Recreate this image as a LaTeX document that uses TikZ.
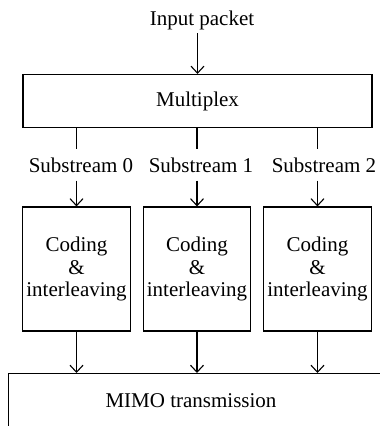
\documentclass[tikz,border=0pt]{standalone}
\usepackage{fontspec}
\setmainfont{Liberation Serif}
\usetikzlibrary{arrows.meta}
\begin{document}
\begin{tikzpicture}[x=1pt,y=-1pt,
  font=\fontsize{21}{22.5}\selectfont,
  line width=1.1pt,
  arr/.style={-{Straight Barb[length=7pt,width=13pt]}},
  box/.style={draw,rectangle,inner sep=0pt},
  streamlbl/.style={anchor=base,text height=14pt,text depth=0pt,inner xsep=0pt,inner ysep=8pt}]
\useasboundingbox (0,0) rectangle (380,426);
\clip (0,0) rectangle (380,426);

% input and multiplexer
\node[anchor=base] (in) at (202,25) {Input packet};
\node[box,minimum width=349pt,minimum height=53pt] (mux) at (197.5,101) {Multiplex};
\draw[arr] (mux.north |- in.south) -- (mux.north);

% substream labels
\node[streamlbl] (s0) at (81,172) {Substream 0};
\node[streamlbl] (s1) at (201,172) {Substream 1};
\node[streamlbl] (s2) at (324,172) {Substream 2};

% coding & interleaving blocks
\foreach \n/\x in {c0/76.5,c1/197,c2/317.5}
  \node[box,minimum width=107.5pt,minimum height=124pt,align=center] (\n) at (\x,269) {Coding\\\&\\interleaving};

% MIMO block, running off the right and bottom edges
\node[box,anchor=north west,minimum width=420pt,minimum height=80pt] (mimobox) at (8,373) {};
\node (mimo) at (191,401) {MIMO transmission};

% connectors
\foreach \s/\c in {s0/c0,s1/c1,s2/c2}{
  \draw (\c.north |- mux.south) -- (\c.north |- \s.north);
  \draw[arr] (\c.north |- \s.south) -- (\c.north);
  \draw[arr] (\c.south) -- (\c.south |- mimobox.north);
}
\end{tikzpicture}
\end{document}
